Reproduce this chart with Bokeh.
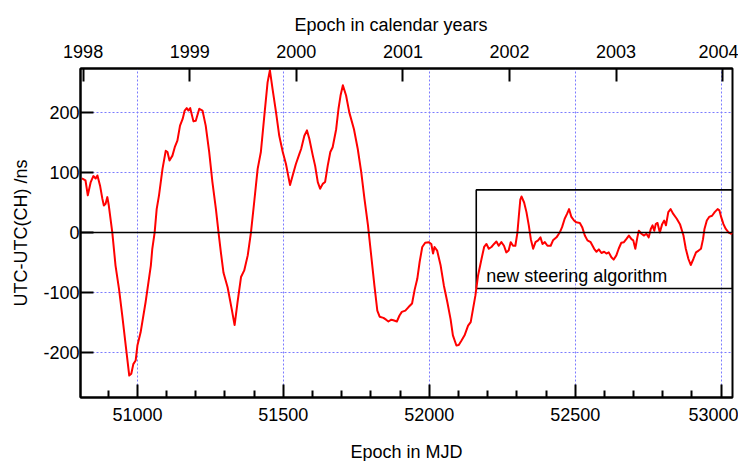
from bokeh.plotting import figure
from bokeh.models import Range1d, FixedTicker, LinearAxis, Span
from bokeh.embed import file_html
from bokeh.resources import INLINE
from bokeh.core.properties import value

# ---- data ----
mjd = [50810, 50822, 50830, 50840, 50849, 50857, 50863, 50872, 50880, 50885,
       50891, 50897, 50902, 50914, 50925, 50937, 50948, 50960, 50972, 50979,
       50986, 50994, 51000, 51011, 51028, 51046, 51051, 51059, 51066, 51074,
       51086, 51097, 51103, 51110, 51120, 51128, 51137, 51146, 51155, 51162,
       51169, 51175, 51181, 51192, 51200, 51212, 51223, 51234, 51246, 51257,
       51269, 51278, 51286, 51295, 51309, 51323, 51333, 51343, 51355, 51366,
       51378, 51389, 51400, 51412, 51423, 51435, 51446, 51454, 51463, 51475,
       51486, 51498, 51509, 51523, 51532, 51543, 51555, 51561, 51572, 51581,
       51589, 51601, 51609, 51618, 51626, 51635, 51643, 51652, 51661, 51669,
       51681, 51689, 51696, 51704, 51715, 51726, 51742, 51755, 51767, 51778,
       51790, 51801, 51812, 51822, 51830, 51843, 51852, 51860, 51870, 51877,
       51889, 51898, 51906, 51918, 51929, 51941, 51950, 51959, 51967, 51976,
       51986, 51998, 52007, 52013, 52018, 52027, 52039, 52050, 52062, 52073,
       52081, 52093, 52101, 52110, 52121, 52133, 52142, 52150, 52158, 52167,
       52179, 52188, 52196, 52204, 52213, 52222, 52230, 52238, 52247, 52256,
       52264, 52272, 52279, 52287, 52295, 52302, 52307, 52312, 52316, 52325,
       52333, 52341, 52348, 52356, 52364, 52373, 52381, 52388, 52396, 52405,
       52416, 52424, 52436, 52447, 52455, 52464, 52472, 52479, 52487, 52496,
       52504, 52516, 52524, 52533, 52542, 52553, 52565, 52573, 52581, 52590,
       52599, 52607, 52615, 52624, 52632, 52641, 52649, 52658, 52667, 52675,
       52684, 52693, 52699, 52706, 52713, 52718, 52727, 52736, 52744, 52752,
       52759, 52765, 52771, 52776, 52782, 52790, 52798, 52805, 52811, 52819,
       52827, 52836, 52848, 52859, 52871, 52879, 52888, 52896, 52905, 52914,
       52923, 52931, 52938, 52943, 52951, 52959, 52969, 52978, 52988, 52994,
       53000, 53008, 53016, 53026, 53035, 53039]
utc_minus_utcch_ns = [90, 87, 62, 84, 94, 90, 95, 78, 56, 45,
       48, 59, 45, 0, -55, -94, -138, -188, -238, -235,
       -219, -213, -188, -166, -116, -55, -27, 0, 39, 62,
       106, 136, 134, 120, 128, 142, 153, 178, 189, 203,
       207, 203, 207, 185, 186, 206, 203, 178, 134, 84,
       39, 0, -33, -67, -91, -127, -154, -116, -74, -63,
       -38, 0, 50, 106, 134, 195, 250, 270, 239, 200,
       161, 134, 114, 79, 95, 114, 131, 139, 161, 170,
       156, 128, 111, 84, 73, 81, 84, 111, 134, 142,
       172, 206, 228, 245, 228, 200, 172, 139, 100, 56,
       12, -38, -88, -130, -140, -142, -145, -148, -145, -146,
       -148, -138, -132, -130, -124, -118, -95, -77, -49, -24,
       -17, -16, -19, -35, -24, -30, -55, -88, -116, -144,
       -171, -188, -187, -180, -171, -155, -149, -127, -105, -72,
       -44, -24, -19, -27, -24, -19, -15, -22, -16, -22,
       -33, -30, -16, -22, -22, 0, 28, 55, 60, 50,
       34, 12, -11, -27, -16, -13, -8, -19, -16, -22,
       -22, -13, -8, 0, 9, 23, 31, 39, 26, 20,
       17, 16, 9, -5, -13, -16, -27, -32, -28, -34,
       -32, -35, -33, -41, -45, -38, -27, -17, -16, -11,
       -5, -11, -13, -27, -8, 3, -2, -5, -2, -8,
       6, 12, 3, 14, 16, 0, 14, 20, 12, 34,
       39, 31, 23, 14, -5, -27, -44, -54, -44, -33,
       -30, -27, -11, 6, 20, 26, 28, 34, 39, 37,
       26, 14, 6, 0, -2, 0]

mjd_ticks = [51000, 51500, 52000, 52500, 53000]
mjd_minor_ticks = [50900, 51100, 51200, 51300, 51400, 51600, 51700, 51800, 51900,
                   52100, 52200, 52300, 52400, 52600, 52700, 52800, 52900]
ns_ticks = [-200, -100, 0, 100, 200]
ns_labels = ["-200", "-100", "0", "100", "200"]
year_mjd = [50814, 51179, 51544, 51910, 52275, 52640, 53005]
year_labels = ["1998", "1999", "2000", "2001", "2002", "2003", "2004"]

box_left = [52161]
box_right = [53039]
box_top = [71]
box_bottom = [-93]
note_x = [52195]
note_y = [-73]
note_text = ["new steering algorithm"]

FONT = "Liberation Sans"
FS = "18px"

p = figure(frame_width=652, frame_height=329,
           x_range=Range1d(50805, 53039), y_range=Range1d(-274.5, 273),
           output_backend="svg", toolbar_location=None,
           min_border_left=80, min_border_right=6, min_border_top=68, min_border_bottom=56,
           background_fill_color="white", border_fill_color="white")

p.title.text = "Epoch in calendar years"
p.title.align = "left"
p.title.offset = 214
p.title.text_font = FONT
p.title.text_font_size = FS
p.title.text_font_style = "normal"
p.title.text_color = "black"
p.title.standoff = 14

p.outline_line_color = "black"
p.outline_line_width = 2
p.outline_line_alpha = 1

# grids
p.xgrid.ticker = FixedTicker(ticks=mjd_ticks)
p.ygrid.ticker = FixedTicker(ticks=ns_ticks)
for g in (p.xgrid[0], p.ygrid[0]):
    g.grid_line_color = "#7b7bff"
    g.grid_line_dash = "2 2"
    g.grid_line_width = 1

def style_axis(ax):
    ax.axis_line_color = "black"
    ax.axis_line_width = 2
    ax.major_tick_line_color = "black"
    ax.major_tick_line_width = 2
    ax.major_tick_in = 13
    ax.major_tick_out = 0
    ax.minor_tick_line_color = "black"
    ax.minor_tick_line_width = 2
    ax.minor_tick_in = 7
    ax.minor_tick_out = 0
    ax.major_label_text_font = FONT
    ax.major_label_text_font_size = FS
    ax.major_label_text_color = "black"
    ax.axis_label_text_font = FONT
    ax.axis_label_text_font_size = FS
    ax.axis_label_text_font_style = "normal"
    ax.axis_label_text_color = "black"

bottom = p.below[0]
bottom.ticker = FixedTicker(ticks=mjd_ticks, minor_ticks=mjd_minor_ticks)
style_axis(bottom)
bottom.axis_label = "Epoch in MJD"
bottom.major_label_standoff = 10
bottom.axis_label_standoff = 18

left = p.left[0]
left.ticker = FixedTicker(ticks=ns_ticks)
left.major_label_overrides = {t: s for t, s in zip(ns_ticks, ns_labels)}
style_axis(left)
left.axis_label = "UTC-UTC(CH) /ns"
left.major_label_standoff = 1
left.axis_label_standoff = 9

top = LinearAxis(ticker=FixedTicker(ticks=year_mjd),
                 major_label_overrides={m: y for m, y in zip(year_mjd, year_labels)})
style_axis(top)
top.major_label_standoff = 11
p.add_layout(top, "above")

# zero line
p.add_layout(Span(location=0, dimension="width", line_color="black", line_width=1.6))

# box around new steering period
p.quad(left=box_left, right=box_right, top=box_top, bottom=box_bottom,
       fill_color=None, line_color="black", line_width=1.6)

p.text(x=note_x, y=note_y, text=note_text, text_font=value(FONT),
       text_font_size=FS, text_color="black", text_baseline="alphabetic", text_align="left")

# data curve
p.line(mjd, utc_minus_utcch_ns, line_color="#ff0000", line_width=2, line_join="round")

open("out.html", "w").write(file_html(p, INLINE))
